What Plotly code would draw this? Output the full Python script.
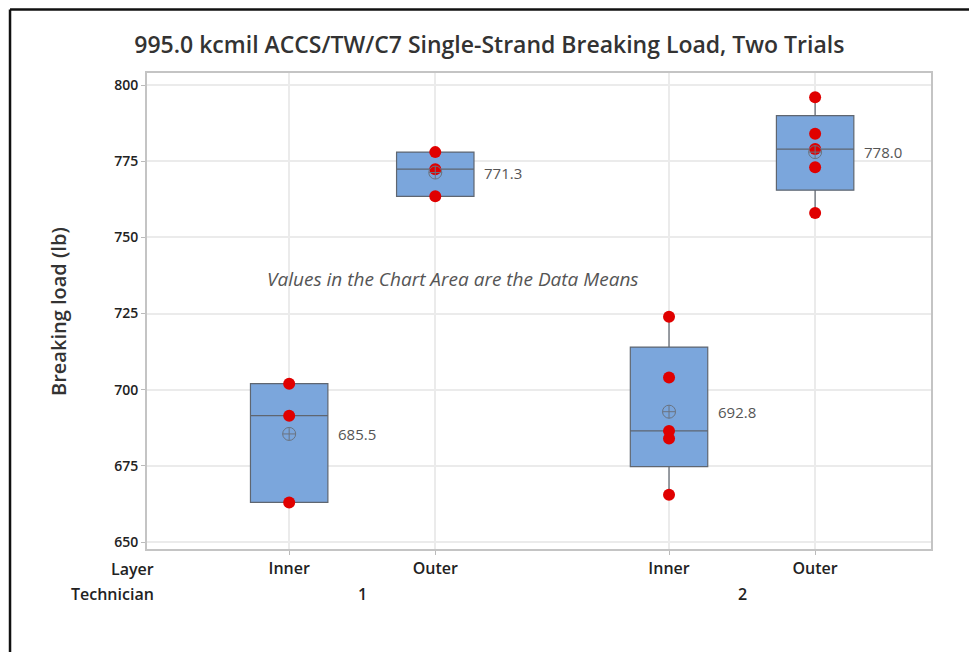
import plotly.graph_objects as go
import numpy as np

# ---- data ----
layers = ["Inner", "Outer", "Inner", "Outer"]
technicians = ["1", "1", "2", "2"]
positions = [1.0, 2.0, 3.6, 4.6]
inner1 = [702.0, 691.5, 663.0]
outer1 = [778.0, 772.4, 763.5]
inner2 = [724.0, 704.0, 686.5, 684.0, 665.5]
outer2 = [796.0, 784.0, 779.0, 773.0, 758.0]
groups = [inner1, outer1, inner2, outer2]
yticks = [650, 675, 700, 725, 750, 775, 800]

FONT = "Open Sans"
BOX_FILL = "#7BA6DC"
LINE = "#5F6670"
RED = "#E00000"
DARK = "#222222"

fig = go.Figure()
for pos, vals in zip(positions, groups):
    fig.add_trace(go.Box(
        x=[pos] * len(vals), y=vals, quartilemethod="exclusive",
        boxpoints=False, width=0.53, fillcolor=BOX_FILL,
        line=dict(color=LINE, width=1.2), whiskerwidth=0,
        showlegend=False, hoverinfo="skip"))
for pos, vals in zip(positions, groups):
    fig.add_trace(go.Scatter(
        x=[pos] * len(vals), y=vals, mode="markers",
        marker=dict(color=RED, size=12, line=dict(width=0)),
        showlegend=False))
    m = float(np.mean(vals))
    fig.add_trace(go.Scatter(
        x=[pos], y=[m], mode="markers",
        marker=dict(symbol="circle-cross-open", size=13,
                    color="#6A7380", line=dict(width=1)),
        showlegend=False))
    fig.add_annotation(x=pos + 0.32, y=m, xref="x", yref="y",
                       text=f"{m:.1f}", showarrow=False, xanchor="left",
                       font=dict(family=FONT, size=15, color="#555555"))

# technician labels
for tech in sorted(set(technicians)):
    ps = [p for p, t in zip(positions, technicians) if t == tech]
    fig.add_annotation(x=float(np.mean(ps)), y=-0.092, xref="x", yref="paper",
                       text=tech, showarrow=False, yanchor="middle",
                       font=dict(family=FONT, size=16, color=DARK, weight=600))

fig.add_annotation(x=0.013, y=-0.040, xref="paper", yref="paper", text="Layer",
                   showarrow=False, xanchor="right", yanchor="middle",
                   font=dict(family=FONT, size=16, color=DARK, weight=600))
fig.add_annotation(x=0.013, y=-0.092, xref="paper", yref="paper", text="Technician",
                   showarrow=False, xanchor="right", yanchor="middle",
                   font=dict(family=FONT, size=16, color=DARK, weight=600))
fig.add_annotation(x=2.12, y=736.5, xref="x", yref="y",
                   text="<i>Values in the Chart Area are the Data Means</i>",
                   showarrow=False,
                   font=dict(family=FONT, size=19, color="#555555"))
# y axis title
fig.add_annotation(x=-0.112, y=0.50, xref="paper", yref="paper",
                   text="Breaking load (lb)", textangle=-90, showarrow=False,
                   xanchor="center", yanchor="middle",
                   font=dict(family=FONT, size=20, color="#333333", weight=600))

# plot-area frame
fig.add_shape(type="rect", xref="paper", yref="paper", x0=0, y0=0, x1=1, y1=1,
              line=dict(color="#C4C4C4", width=2), layer="above")
# outer black frame (top & left)
fig.add_shape(type="line", xref="paper", yref="paper", x0=-0.173, x1=1.06,
              y0=1.131, y1=1.131, line=dict(color="#111111", width=2.5))
fig.add_shape(type="line", xref="paper", yref="paper", x0=-0.173, x1=-0.173,
              y0=1.131, y1=-0.22, line=dict(color="#111111", width=2.5))

fig.update_layout(
    width=969, height=652,
    margin=dict(l=146, r=37, t=72, b=102),
    paper_bgcolor="white", plot_bgcolor="white",
    title=dict(text="995.0 kcmil ACCS/TW/C7 Single-Strand Breaking Load, Two Trials",
               x=0.505, xanchor="center", y=0.931, yanchor="middle",
               font=dict(family=FONT, size=23, color="#333333", weight=600)),
    xaxis=dict(range=[0.02, 5.4], tickvals=positions, ticktext=layers,
               showgrid=True, gridcolor="#EBEBEB", gridwidth=1.5, zeroline=False,
               ticks="outside", ticklen=4, tickcolor="#BBBBBB",
               tickfont=dict(family=FONT, size=16, color=DARK, weight=600),
               showline=False),
    yaxis=dict(range=[647.4, 804.3], tickvals=yticks,
               showgrid=True, gridcolor="#EBEBEB", gridwidth=1.5, zeroline=False,
               ticks="outside", ticklen=4, tickcolor="#BBBBBB",
               tickfont=dict(family=FONT, size=14, color=DARK, weight=600),
               showline=False),
)

fig.write_html("out.html")
